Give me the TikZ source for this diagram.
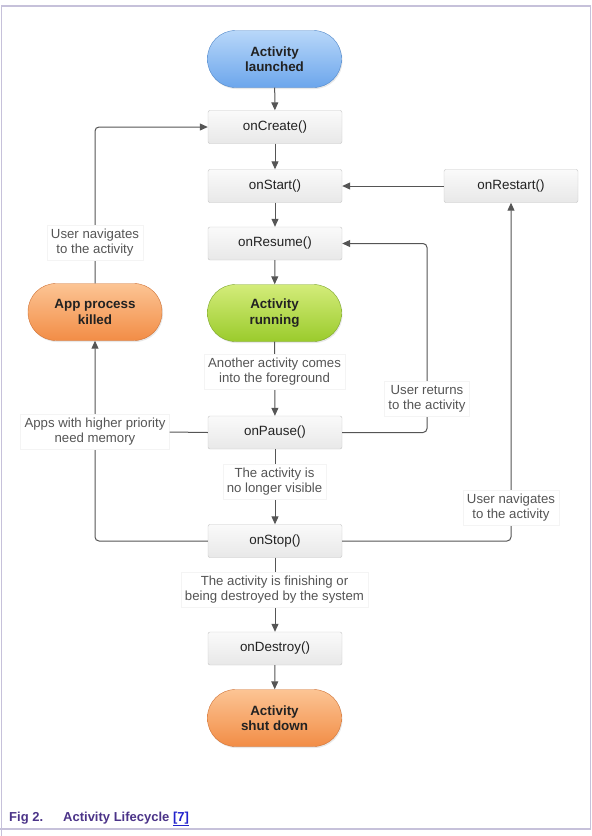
\documentclass[tikz,border=0pt]{standalone}
\usepackage{fontspec}
\setmainfont{Liberation Sans}
\usetikzlibrary{arrows.meta,shadows}
\definecolor{framecol}{HTML}{C6C1DA}
\definecolor{boxtop}{HTML}{FAFAFA}
\definecolor{boxbot}{HTML}{E8E8E8}
\definecolor{boxline}{HTML}{C4C4C4}
\definecolor{bluetop}{HTML}{B8D7F9}
\definecolor{bluebot}{HTML}{6CA6EC}
\definecolor{blueline}{HTML}{4F86C8}
\definecolor{greentop}{HTML}{D4EC7A}
\definecolor{greenbot}{HTML}{9ACB2C}
\definecolor{greenline}{HTML}{7BA52B}
\definecolor{orangetop}{HTML}{FCC494}
\definecolor{orangebot}{HTML}{F28D46}
\definecolor{orangeline}{HTML}{CF7235}
\definecolor{linecol}{HTML}{555555}
\definecolor{labcol}{HTML}{555555}
\definecolor{labline}{HTML}{F4F4F4}
\definecolor{txtcol}{HTML}{222222}
\definecolor{capcol}{HTML}{4B3388}
\definecolor{linkcol}{HTML}{2222CC}
\tikzset{
  fnbox/.style={draw=boxline, top color=boxtop, bottom color=boxbot, rounded corners=2pt,
    minimum width=134pt, minimum height=33pt, inner sep=0pt, text=txtcol,
    font=\fontsize{13.4}{15}\selectfont},
  pill/.style={rounded corners=28pt, minimum width=134pt, minimum height=57pt, inner sep=0pt,
    align=center, text=txtcol, font=\fontsize{13.4}{15.5}\selectfont\bfseries,
    drop shadow={opacity=0.18, shadow xshift=1pt, shadow yshift=-1.5pt}},
  bluepill/.style={pill, draw=blueline, top color=bluetop, bottom color=bluebot},
  greenpill/.style={pill, draw=greenline, top color=greentop, bottom color=greenbot},
  orangepill/.style={pill, draw=orangeline, top color=orangetop, bottom color=orangebot},
  lab/.style={fill=white, draw=labline, align=center, text=labcol, inner xsep=4pt, inner ysep=4pt,
    font=\fontsize{13.2}{15}\selectfont},
  conn/.style={draw=linecol, line width=1pt},
  arr/.style={conn, -{Triangle[length=8pt,width=7pt]}},
}
\begin{document}
\begin{tikzpicture}[x=1pt,y=-1pt]
\useasboundingbox (0,0) rectangle (592,836);
\draw[framecol, line width=1.5pt] (1.3,836) -- (1.3,6) -- (590.5,6) -- (590.5,829) -- (0,829);

% main column
\node[bluepill] (launch) at (274.5,59) {Activity\\launched};
\node[fnbox] (create) at (275,127) {onCreate()};
\node[fnbox] (start) at (275,186) {onStart()};
\node[fnbox] (restart) at (511,186) {onRestart()};
\node[fnbox] (resume) at (275,243.5) {onResume()};
\node[greenpill] (run) at (274.5,313) {Activity\\running};
\node[fnbox] (pause) at (275,432.5) {onPause()};
\node[fnbox] (stop) at (275,541) {onStop()};
\node[fnbox] (destroy) at (275,648.5) {onDestroy()};
\node[orangepill] (down) at (274.5,718) {Activity\\shut down};
\node[orangepill] (kill) at (95,312) {App process\\killed};

% connectors
\draw[arr] (launch) -- (create);
\draw[arr] (create) -- (start);
\draw[arr] (start) -- (resume);
\draw[arr] (resume) -- (run);
\draw[arr] (run) -- (pause);
\draw[arr] (pause) -- (stop);
\draw[arr] (stop) -- (destroy);
\draw[arr] (destroy) -- (down);
\draw[arr] (restart) -- (start);

\coordinate (ret) at (427,399);
\coordinate (nav2) at (511,508);
\coordinate (mem) at (95,432);
\coordinate (nav1) at (95,243);

\draw[arr, rounded corners=4pt] (pause.east) -| (ret) |- (resume.east);
\draw[arr, rounded corners=4pt] (stop.east) -| (nav2) -- (restart.south);
\draw[arr, rounded corners=4pt] (stop.west) -| (mem) -- (kill.south);
\draw[arr, rounded corners=4pt] (kill.north) -- (nav1) |- (create.west);

% labels
\node[lab] (lanother) at (274.5,372) {Another activity comes\\into the foreground};
\node[lab] (lvisible) at (274.5,482) {The activity is\\no longer visible};
\node[lab] (lfinish) at (274.5,590) {The activity is finishing or\\being destroyed by the system};
\node[lab] (lret) at (ret) {User returns\\to the activity};
\node[lab] (lnav2) at (nav2) {User navigates\\to the activity};
\node[lab] (lmem) at (mem) {Apps with higher priority\\need memory};
\node[lab] (lnav1) at (nav1) {User navigates\\to the activity};
\draw[conn] (pause.west) -- (lmem.east);

% caption
\node[anchor=base west, inner sep=0pt, text=capcol, font=\fontsize{13}{15}\selectfont\bfseries]
  (cap) at (9,821) {\makebox[54pt][l]{Fig 2.}Activity Lifecycle \textcolor{linkcol}{\underline{[7]}}};
\end{tikzpicture}
\end{document}
